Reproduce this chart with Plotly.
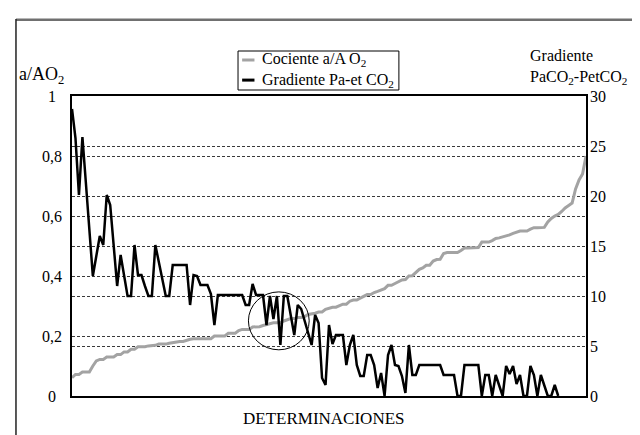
import plotly.graph_objects as go

# ---------------- data ----------------
determinaciones = list(range(149))

cociente_aA_O2 = [
    0.061, 0.072, 0.072, 0.080, 0.080, 0.080, 0.100, 0.117, 0.122, 0.122,
    0.130, 0.130, 0.130, 0.138, 0.138, 0.147, 0.147, 0.156, 0.156, 0.164,
    0.164, 0.164, 0.167, 0.167, 0.169, 0.173, 0.173, 0.173, 0.176, 0.178,
    0.182, 0.182, 0.182, 0.186, 0.189, 0.191, 0.191, 0.191, 0.191, 0.191,
    0.191, 0.200, 0.200, 0.200, 0.200, 0.209, 0.209, 0.209, 0.218, 0.222,
    0.222, 0.222, 0.230, 0.231, 0.231, 0.235, 0.238, 0.240, 0.244, 0.244,
    0.244, 0.250, 0.253, 0.258, 0.258, 0.262, 0.262, 0.265, 0.272, 0.273,
    0.276, 0.280, 0.280, 0.289, 0.293, 0.296, 0.296, 0.300, 0.306, 0.306,
    0.316, 0.320, 0.320, 0.326, 0.333, 0.338, 0.338, 0.345, 0.349, 0.353,
    0.358, 0.369, 0.369, 0.375, 0.380, 0.387, 0.388, 0.400, 0.401, 0.410,
    0.422, 0.427, 0.436, 0.436, 0.450, 0.455, 0.456, 0.475, 0.478, 0.478,
    0.478, 0.478, 0.485, 0.493, 0.493, 0.493, 0.493, 0.495, 0.513, 0.513,
    0.513, 0.518, 0.525, 0.527, 0.530, 0.533, 0.537, 0.542, 0.545, 0.550,
    0.550, 0.550, 0.556, 0.561, 0.561, 0.561, 0.562, 0.580, 0.592, 0.600,
    0.605, 0.615, 0.627, 0.635, 0.643, 0.690, 0.720, 0.740, 0.800,
]

gradiente_PaCO2_PetCO2 = [
    28.7, 25.8, 20.1, 25.9, 21.3, 16.6, 12.0, 14.0, 16.0, 15.1,
    20.1, 19.1, 15.0, 11.0, 14.1, 12.0, 10.0, 10.0, 15.1, 12.1,
    12.1, 11.0, 10.0, 10.0, 15.1, 13.4, 11.7, 10.0, 10.0, 13.1,
    13.1, 13.1, 13.1, 13.1, 9.1, 12.1, 12.0, 11.1, 11.1, 11.1,
    10.2, 7.1, 10.1, 10.1, 10.1, 10.1, 10.1, 10.1, 10.1, 10.1,
    9.1, 9.1, 11.2, 10.1, 10.1, 10.1, 7.1, 10.0, 7.7, 10.0,
    5.1, 10.0, 10.0, 8.1, 6.1, 9.1, 8.7, 7.5, 6.3, 5.1,
    8.1, 7.3, 1.8, 1.1, 7.1, 5.2, 6.1, 6.1, 6.1, 3.1,
    5.1, 6.1, 3.1, 2.0, 2.0, 4.1, 4.1, 3.1, 0.8, 2.3,
    0.0, 4.1, 5.1, 3.1, 3.0, 2.0, 0.3, 5.1, 2.1, 2.1,
    3.1, 3.1, 3.1, 3.1, 3.1, 3.1, 3.1, 2.1, 2.1, 2.1,
    2.1, 0.0, 0.0, 3.1, 3.1, 3.1, 3.1, 3.1, 0.0, 2.1,
    2.1, 0.0, 2.1, 1.1, 0.0, 3.0, 2.2, 3.0, 1.2, 2.1,
    0.0, 0.0, 3.0, 2.1, 0.0, 2.1, 1.1, 0.0, 0.0, 1.1,
    0.0, None, None, None, None, None, None, None, None,
]

series_names = ["Cociente a/A O<sub>2</sub>", "Gradiente Pa-et CO<sub>2</sub>"]
series_colors = ["#a3a3a3", "#000000"]

left_tickvals = [0, 0.2, 0.4, 0.6, 0.8, 1]
left_ticktext = ["0", "0,2", "0,4", "0,6", "0,8", "1"]
right_tickvals = [0, 5, 10, 15, 20, 25, 30]
right_ticktext = ["0", "5", "10", "15", "20", "25", "30"]

left_title = "a/AO<sub>2</sub>"
right_title = "Gradiente<br>PaCO<sub>2</sub>-PetCO<sub>2</sub>"
x_title = "DETERMINACIONES"

# highlighted zone (circle) in data units
circle_x = [50.8, 68.3]
circle_y = [0.154, 0.347]

FONT = "Liberation Serif"

fig = go.Figure()
fig.add_trace(go.Scatter(
    x=determinaciones, y=cociente_aA_O2, mode="lines",
    name=series_names[0], showlegend=False,
    line=dict(color=series_colors[0], width=3), yaxis="y"))
fig.add_trace(go.Scatter(
    x=determinaciones, y=gradiente_PaCO2_PetCO2, mode="lines",
    name=series_names[1], showlegend=False,
    line=dict(color=series_colors[1], width=2.5), yaxis="y2",
    connectgaps=False))

grid = dict(showgrid=True, gridcolor="#3a3a3a", griddash="3px,2px", gridwidth=1)

fig.update_layout(
    width=640, height=435,
    margin=dict(l=64, r=62, t=88, b=47),
    paper_bgcolor="white", plot_bgcolor="white",
    font=dict(family=FONT, size=16, color="black"),
    showlegend=False,
    xaxis=dict(range=[0, len(determinaciones) - 1], showticklabels=False,
               ticks="", showgrid=False, zeroline=False,
               showline=True, linecolor="black", linewidth=1.5, mirror=True),
    yaxis=dict(range=[0, 1], tickvals=left_tickvals, showticklabels=False,
               ticks="", zeroline=False,
               showline=True, linecolor="black", linewidth=1.5, mirror=True,
               **grid),
    yaxis2=dict(range=[0, 30], tickvals=right_tickvals, ticktext=right_ticktext,
                overlaying="y", side="right", ticks="", zeroline=False,
                tickfont=dict(family=FONT, size=16), ticklabelstandoff=3,
                showline=False, **grid),
)

annotations = []
for v, t in zip(left_tickvals, left_ticktext):
    annotations.append(dict(x=-0.039, y=v, xref="paper", yref="y", text=t,
                            showarrow=False, xanchor="center", yanchor="middle",
                            font=dict(family=FONT, size=16)))
annotations.append(dict(x=-0.107, y=1.068, xref="paper", yref="paper",
                        text=left_title, showarrow=False,
                        xanchor="left", yanchor="middle",
                        font=dict(family=FONT, size=18)))
annotations.append(dict(x=0.888, y=1.098, xref="paper", yref="paper",
                        text=right_title,
                        showarrow=False, xanchor="left", yanchor="middle",
                        align="left", font=dict(family=FONT, size=16)))
annotations.append(dict(x=0.49, y=-0.075, xref="paper", yref="paper",
                        text=x_title, showarrow=False,
                        xanchor="center", yanchor="middle",
                        font=dict(family=FONT, size=17)))

# legend (box, short line samples, labels)
legend_box = dict(x0=0.323, x1=0.636, y0=1.02, y1=1.15)
legend_rows_y = [1.12, 1.053]
sample_x = [0.331, 0.355]
for name, color, yy in zip(series_names, series_colors, legend_rows_y):
    annotations.append(dict(x=0.365, y=yy, xref="paper", yref="paper",
                            text=name, showarrow=False, xanchor="left",
                            yanchor="middle", font=dict(family=FONT, size=16)))
fig.update_layout(annotations=annotations)

shapes = [
    dict(type="circle", xref="x", yref="y", x0=circle_x[0], x1=circle_x[1],
         y0=circle_y[0], y1=circle_y[1], line=dict(color="black", width=1)),
    dict(type="rect", xref="paper", yref="paper", line=dict(color="black", width=1),
         fillcolor="white", **legend_box),
    # outer frame of the figure
    dict(type="line", xref="paper", yref="paper", x0=-0.109, x1=1.2,
         y0=1.254, y1=1.254, line=dict(color="#707070", width=2.5)),
    dict(type="line", xref="paper", yref="paper", x0=-0.109, x1=-0.109,
         y0=1.257, y1=-0.25, line=dict(color="#222222", width=1.5)),
]
for color, yy in zip(series_colors, legend_rows_y):
    shapes.append(dict(type="line", xref="paper", yref="paper",
                       x0=sample_x[0], x1=sample_x[1], y0=yy, y1=yy,
                       line=dict(color=color, width=3)))
fig.update_layout(shapes=shapes)

fig.write_html("out.html")
